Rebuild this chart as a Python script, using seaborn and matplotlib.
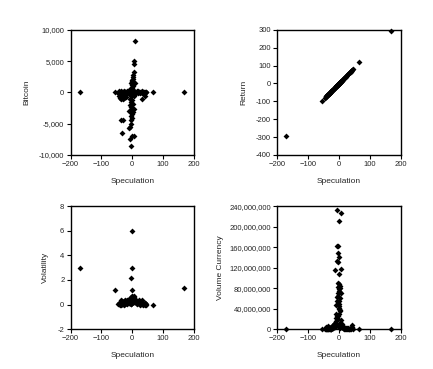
import matplotlib
matplotlib.use("Agg")
import matplotlib.pyplot as plt
import seaborn as sns
import pandas as pd
from matplotlib.ticker import FuncFormatter

speculation = [
    -170, 168, 67, -55,
    -45, -42, -40, -38, -36, -34, -32, -30, -28, -26, -24, -22, -20, -18, -16, -14, -12, -10,
    10, 12, 14, 16, 18, 20, 22, 24, 26, 28, 30, 32, 34, 36, 38, 40, 42, 44, 46,
    -42, -40, -38, -36, -34, -32, -30, -28, -26, -24, -22, -20, 30, 40,
    0, 0, -3, 0, 9, 5, 6, 4, 3, 2, 1, -2, 2, -1, 3, -4,
    -5, 7, 1, -3, -6, -4, 2, -6, -4, 6, -12, 2, -2, -4, -1, -3, -5, -7, -10,
    -35, -30, -33, 0, 5, -8, -5, -8, 8, -8, 5, -2, 0, 4,
]
bitcoin = [
    0, 0, 0, 0,
    -100, 150, -50, 200, 0, 100, -150, 50, 150, -100, 0, 100, -200, 50, 150, -50, 100, -100,
    100, -50, 150, 0, -100, 200, 50, -150, 100, 0, -100, 150, 50, -50, 100, 0, -50, 100, 0,
    -600, -900, -700, -1000, -500, -800, -1000, -600, -900, -700, -500, -800, -1000, -500,
    2000, 1800, 1500, 1200, 8200, 5000, 4500, 3200, 2800, 2500, 2200, 1600, 1000, 700, 400, 100,
    -200, 300, -300, -600, -1000, -1500, -1800, -2000, -2300, -2600, -2900, -3200, -3500, -3800, -4100, -4400, -5000, -5500, -5700,
    -4400, -4400, -6500, -7000, -7000, -7500, -8500, -3000, 1500, 500, -500, -1200, -2500, 0,
]
return_ = [
    -295, 295, 120, -97,
    -79, -74, -70, -66, -63, -60, -56, -52, -49, -45, -42, -38, -35, -32, -28, -24, -21, -18,
    18, 21, 24, 28, 32, 35, 38, 42, 45, 49, 52, 56, 60, 63, 66, 70, 73, 77, 80,
    -74, -70, -66, -63, -60, -56, -52, -49, -45, -42, -38, -35, 52, 70,
    0, 0, -5, 0, 16, 9, 10, 7, 5, 4, 2, -4, 4, -2, 5, -7,
    -9, 12, 2, -5, -10, -7, 4, -10, -7, 10, -21, 4, -4, -7, -2, -5, -9, -12, -18,
    -61, -52, -58, 0, 9, -14, -9, -14, 14, -14, 9, -4, 0, 7,
]
volatility = [
    3.0, 1.35, 0.0, 1.2,
    0.05, 0.1, 0.0, 0.2, 0.35, 0.05, 0.25, 0.1, 0.3, 0.0, 0.2, 0.35, 0.1, 0.4, 0.05, 0.3, 0.15, 0.45,
    0.4, 0.1, 0.3, 0.05, 0.25, 0.1, 0.35, 0.0, 0.2, 0.05, 0.35, 0.1, 0.0, 0.15, 0.05, 0.1, 0.0, 0.05, 0.0,
    0.05, 0.1, 0.2, 0.0, 0.15, 0.3, 0.05, 0.2, 0.1, 0.25, 0.05, 0.15, 0.05, 0.1,
    6.0, 3.0, 2.2, 1.2, 0.3, 0.5, 0.6, 0.7, 0.4, 0.65, 0.5, 0.3, 0.55, 0.2, 0.45, 0.6,
    0.35, 0.25, 0.5, 0.4, 0.3, 0.2, 0.35, 0.15, 0.25, 0.3, 0.2, 0.4, 0.1, 0.3, 0.2, 0.15, 0.05, 0.2, 0.1,
    0.05, 0.1, 0.05, 0.1, 0.2, 0.15, 0.05, 0.1, 0.3, 0.25, 0.55, 0.7, 0.45, 0.35,
]
volume_millions = [
    0.5, 0.5, 0.3, 0.8,
    0.5, 2, 4, 1, 3, 6, 2, 0.5, 3, 1, 5, 2, 8, 3, 10, 4, 12, 6,
    6, 3, 2, 5, 1, 0.5, 2, 1, 3, 0.5, 2, 1, 0.5, 1, 3, 2, 5, 8, 1,
    0.5, 1, 0.5, 2, 1, 3, 1, 2, 1, 0.5, 2, 3, 1, 0.5,
    30, 40, 20, 50, 10, 60, 70, 85, 80, 88, 75, 65, 55, 45, 35, 25,
    233, 226, 212, 163, 162, 148, 141, 134, 132, 118, 115, 108, 90, 82, 78, 70, 62, 55, 48,
    0.5, 2, 1, 42, 38, 30, 26, 22, 18, 15, 12, 8, 5, 2,
]

df = pd.DataFrame({
    "Speculation": speculation,
    "Bitcoin": bitcoin,
    "Return": return_,
    "Volatility": volatility,
    "Volume Currency": [v * 1e6 for v in volume_millions],
})

sns.set_style("ticks")
plt.rcParams["font.family"] = ["Liberation Sans", "DejaVu Sans"]

fig = plt.figure(figsize=(4.33, 3.69), dpi=100)
w = 0.285
ax1 = fig.add_axes([0.163, 0.580, w, 0.339])
ax2 = fig.add_axes([0.640, 0.580, w, 0.339])
ax3 = fig.add_axes([0.163, 0.108, w, 0.333])
ax4 = fig.add_axes([0.640, 0.108, w, 0.333])

specs = [
    (ax1, "Bitcoin", (-10000, 10000), list(range(-10000, 10001, 5000)), 6),
    (ax2, "Return", (-400, 300), list(range(-400, 301, 100)), 6),
    (ax3, "Volatility", (-2, 8), list(range(-2, 9, 2)), 6),
    (ax4, "Volume Currency", (0, 240e6), [i * 40e6 for i in range(7)], 4),
]
comma = FuncFormatter(lambda v, p: f"{int(round(v)):,}")
for ax, col, ylim, yt, lp in specs:
    sns.scatterplot(data=df, x="Speculation", y=col, ax=ax, color="black",
                    marker="D", s=9, linewidth=0, clip_on=False, legend=False)
    ax.set_xlim(-200, 200)
    ax.set_xticks([-200, -100, 0, 100, 200])
    ax.set_ylim(*ylim)
    ax.set_yticks(yt)
    ax.yaxis.set_major_formatter(comma)
    ax.tick_params(labelsize=5.5, length=3, width=0.8, pad=1.5, color="black")
    for s in ax.spines.values():
        s.set_linewidth(1.0)
        s.set_color("black")
    ax.set_xlabel("Speculation", fontsize=6, labelpad=7)
    ax.set_ylabel(col, fontsize=6, labelpad=lp)

fig.savefig("out.png", dpi=100)
